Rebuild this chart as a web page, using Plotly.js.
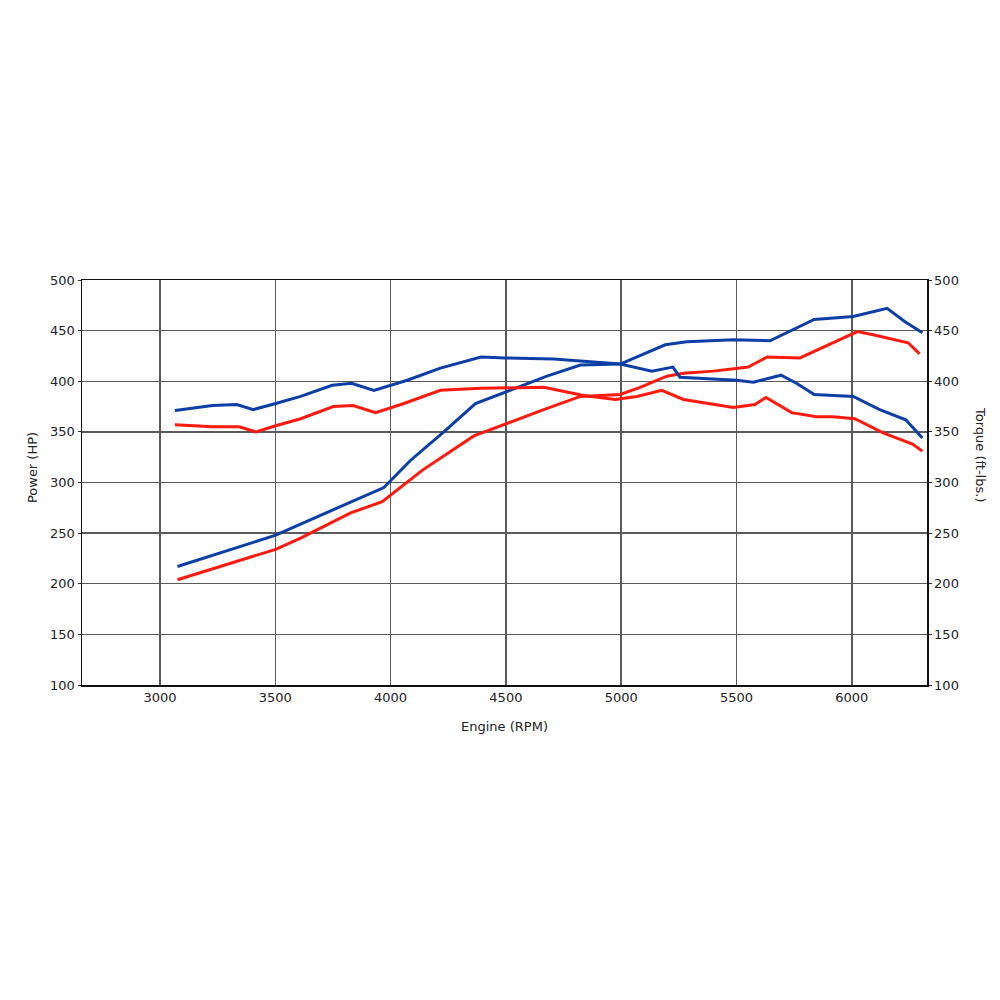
<!DOCTYPE html>
<html>
<head>
<meta charset="utf-8">
<script src="https://cdn.plot.ly/plotly-3.0.1.min.js"></script>
<style>
  html, body { margin: 0; padding: 0; background: #fff; }
  #chart { width: 1000px; height: 1000px; }
</style>
</head>
<body>
<div id="chart"></div>
<script>
// dyno run A (blue) and run B (red)
const torqueA_rpm = [3065, 3228, 3333, 3405, 3502, 3610, 3747, 3831, 3928, 4000, 4072, 4216, 4392, 4498, 4707, 4996, 5133, 5224, 5255, 5500, 5573, 5693, 5760, 5837, 5919, 6006, 6121, 6234, 6306];
const torqueA_val = [371, 376, 377, 372, 378, 385, 396, 398, 391, 396, 401, 413, 424, 423, 422, 417, 410, 414, 404, 401, 399, 406, 398, 387, 386, 385, 372, 362, 344];

const torqueB_rpm = [3065, 3228, 3343, 3416, 3502, 3610, 3752, 3838, 3935, 4058, 4216, 4390, 4664, 4837, 4974, 5068, 5176, 5270, 5486, 5580, 5628, 5739, 5847, 5919, 6013, 6136, 6263, 6306];
const torqueB_val = [357, 355, 355, 350, 356, 363, 375, 376, 369, 378, 391, 393, 394, 386, 382, 385, 391, 382, 374, 377, 384, 369, 365, 365, 363, 349, 338, 331];

const powerA_rpm = [3076, 3502, 3610, 3827, 3971, 4087, 4231, 4368, 4498, 4678, 4823, 4996, 5191, 5284, 5486, 5645, 5837, 6006, 6153, 6229, 6306];
const powerA_val = [217, 248, 259, 281, 295, 322, 350, 378, 389, 405, 416, 417, 436, 439, 441, 440, 461, 464, 472, 459, 448];

const powerB_rpm = [3076, 3502, 3610, 3827, 3964, 4137, 4361, 4498, 4664, 4823, 4996, 5082, 5198, 5270, 5400, 5551, 5633, 5775, 6024, 6092, 6244, 6294];
const powerB_val = [204, 234, 245, 270, 281, 312, 346, 358, 372, 385, 387, 394, 405, 408, 410, 414, 424, 423, 449, 446, 438, 427];

const blue = '#0b3fa6';
const red = '#ff1a0d';
const fontFamily = 'DejaVu Sans, sans-serif';
const textFont = { family: fontFamily, size: 13, color: '#222' };

function line(x, y, color, axis) {
    return {
        x: x,
        y: y,
        yaxis: axis,
        type: 'scatter',
        mode: 'lines',
        line: { color: color, width: 3 },
        hoverinfo: 'skip'
    };
}

const traces = [
    line(powerB_rpm, powerB_val, red, 'y'),
    line(powerA_rpm, powerA_val, blue, 'y'),
    line(torqueB_rpm, torqueB_val, red, 'y2'),
    line(torqueA_rpm, torqueA_val, blue, 'y2')
];

const yCommon = {
    range: [100, 500],
    dtick: 50,
    tick0: 100,
    showgrid: true,
    gridcolor: '#5a5a5a',
    gridwidth: 1.4,
    showline: true,
    linecolor: '#111',
    linewidth: 1.5,
    zeroline: false,
    ticks: 'outside',
    ticklen: 3,
    tickcolor: '#333',
    tickfont: textFont
};

const layout = {
    width: 1000,
    height: 1000,
    margin: { l: 82, r: 73, t: 280, b: 315 },
    paper_bgcolor: '#fff',
    plot_bgcolor: '#fff',
    showlegend: false,
    xaxis: {
        range: [2662, 6326],
        tickvals: [3000, 3500, 4000, 4500, 5000, 5500, 6000],
        showgrid: true,
        gridcolor: '#5a5a5a',
        gridwidth: 1.4,
        showline: true,
        mirror: true,
        linecolor: '#111',
        linewidth: 1.5,
        zeroline: false,
        ticks: '',
        tickfont: textFont,
        title: { text: 'Engine (RPM)', font: textFont, standoff: 18 }
    },
    yaxis: Object.assign({}, yCommon, { side: 'left' }),
    yaxis2: Object.assign({}, yCommon, {
        side: 'right',
        overlaying: 'y',
        showgrid: false
    }),
    annotations: [
        {
            text: 'Power (HP)', textangle: -90, font: textFont, showarrow: false,
            xref: 'paper', yref: 'paper', x: -0.0592, y: 0.538,
            xanchor: 'center', yanchor: 'middle'
        },
        {
            text: 'Torque (ft-lbs.)', textangle: 90, font: textFont, showarrow: false,
            xref: 'paper', yref: 'paper', x: 1.0627, y: 0.568,
            xanchor: 'center', yanchor: 'middle'
        }
    ]
};

Plotly.newPlot('chart', traces, layout, { displayModeBar: false, staticPlot: true });
</script>
</body>
</html>
